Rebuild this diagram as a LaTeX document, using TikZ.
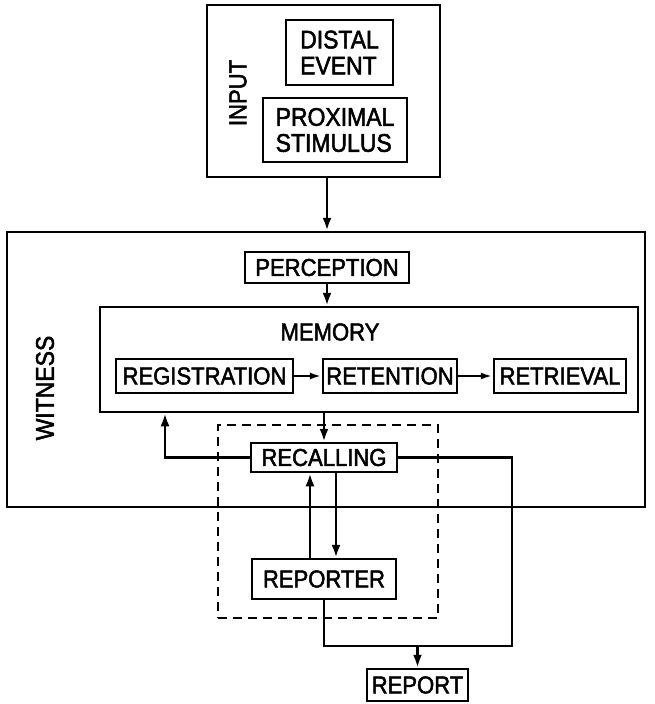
\documentclass[tikz,border=0pt]{standalone}
\usepackage{fontspec}
\setmainfont[FakeStretch=0.9,FakeBold=2]{Liberation Sans}
\usetikzlibrary{arrows.meta}
\begin{document}
\begin{tikzpicture}[x=1pt,y=-1pt,line width=2.5pt,
  every node/.style={font=\fontsize{24.5}{26}\selectfont},
  box/.style={draw,inner sep=0pt},
  big/.style={font=\fontsize{25.5}{26}\selectfont},
  arr/.style={-{Latex[length=13pt,width=9pt]}},
  sarr/.style={-{Latex[length=12pt,width=7pt]}},
  grp/.style={draw,dash pattern=on 9pt off 6pt,inner sep=0pt}]
\useasboundingbox (0,0) rectangle (655,704);
% input
\node[box,minimum width=233pt,minimum height=172pt] (input) at (323.5,91) {};
\node[box,big,align=left,minimum width=107pt,minimum height=65pt] (distal) at (339.5,52.5) {DISTAL\\EVENT};
\node[box,big,align=left,minimum width=144pt,minimum height=64pt] (proximal) at (335,130) {PROXIMAL\\STIMULUS};
\node[rotate=90] (inputlbl) at (238,93) {INPUT};
% witness
\node[box,minimum width=638pt,minimum height=275pt] (witness) at (326,369.5) {};
\node[rotate=90,big] (witnesslbl) at (45,388) {WITNESS};
\node[box,minimum width=164pt,minimum height=31pt] (perception) at (327,267.5) {PERCEPTION};
\node[box,minimum width=538pt,minimum height=105pt] (memory) at (369,359.5) {};
\node (memorylbl) at (330,332) {MEMORY};
\node[box,minimum width=177pt,minimum height=34pt] (registration) at (204.5,376) {REGISTRATION};
\node[box,minimum width=134pt,minimum height=34pt] (retention) at (390,376) {RETENTION};
\node[box,minimum width=132pt,minimum height=34pt] (retrieval) at (560,376) {RETRIEVAL};
% dashed group
\node[grp,minimum width=220pt,minimum height=193pt] (group) at (328,521.5) {};
\node[box,minimum width=146pt,minimum height=29pt] (recalling) at (324,457.5) {RECALLING};
\node[box,minimum width=144pt,minimum height=40pt] (reporter) at (324,579) {REPORTER};
\node[box,minimum width=101pt,minimum height=32pt] (report) at (417.5,685) {REPORT};
% connectors
\draw[arr] (input.south -| perception) -- (perception |- witness.north);
\draw[arr] (perception.south) -- (perception.south |- memory.north);
\draw[sarr] (registration) -- (retention);
\draw[sarr] (retention) -- (retrieval);
\draw[arr] (recalling.north |- memory.south) -- (recalling.north);
\coordinate (lft) at (165,457.5);
\draw[arr] (recalling.west) -- (lft) -- (lft |- memory.south);
\coordinate (rgt) at (512,457.5);
\coordinate (bot) at (512,646);
\draw (recalling.east) -- (rgt) -- (bot) -- (reporter.south |- bot) -- (reporter.south);
\draw[arr] (report.north |- bot) -- (report.north);
\draw[arr] ([xshift=-14pt]reporter.north) -- ([xshift=-14pt]recalling.south);
\draw[arr] ([xshift=12pt]recalling.south) -- ([xshift=12pt]reporter.north);
\end{tikzpicture}
\end{document}
